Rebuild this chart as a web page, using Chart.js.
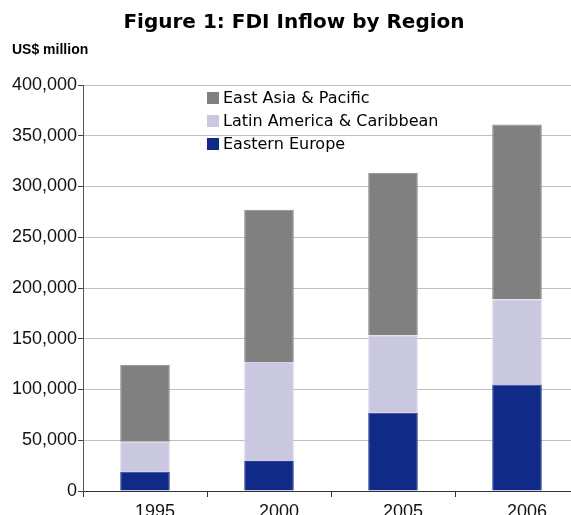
<!DOCTYPE html>
<html>
<head>
<meta charset="utf-8">
<script src="https://cdn.jsdelivr.net/npm/chart.js@4.4.1/dist/chart.umd.min.js"></script>
<style>
  html, body { margin: 0; padding: 0; background: #fff; overflow: hidden; }
  #wrap { position: relative; width: 580px; height: 515px; }
</style>
</head>
<body>
<div id="wrap"><canvas id="fdiChart"></canvas></div>
<script>
// data (US$ million)
const years = ['1995', '2000', '2005', '2006']
const easternEurope = [19000, 29500, 77000, 105000]
const latinAmerica = [29500, 97500, 76500, 84000]
const eastAsia = [76000, 150000, 160000, 172000]
const yTicks = [0, 50000, 100000, 150000, 200000, 250000, 300000, 350000, 400000]

const titleText = 'Figure 1: FDI Inflow by Region'
const unitText = 'US$ million'

// title, unit label and in-plot legend
const decorations = {
  id: 'decorations',
  afterDraw(chart) {
    const ctx = chart.ctx
    ctx.save()
    ctx.fillStyle = '#000'
    ctx.textBaseline = 'middle'
    ctx.textAlign = 'center'
    ctx.font = 'bold 20px "DejaVu Sans"'
    ctx.fillText(titleText, 294, 23)
    ctx.textAlign = 'left'
    ctx.font = 'bold 14px "Liberation Sans"'
    ctx.fillText(unitText, 12, 50)

    // legend, top row first
    const order = [2, 1, 0]
    ctx.font = '16px "DejaVu Sans"'
    order.forEach((di, row) => {
      const ds = chart.data.datasets[di]
      const y = 98 + row * 23
      ctx.fillStyle = ds.backgroundColor
      ctx.fillRect(207, y - 6, 12, 12)
      ctx.fillStyle = '#000'
      ctx.fillText(ds.label, 223, y + 1)
    })
    ctx.restore()
  }
}

new Chart(document.getElementById('fdiChart'), {
  type: 'bar',
  data: {
    labels: years,
    datasets: [{
      label: 'Eastern Europe',
      data: easternEurope,
      backgroundColor: '#0f2a87',
      borderColor: '#2a3f95',
      borderWidth: 1
    }, {
      label: 'Latin America & Caribbean',
      data: latinAmerica,
      backgroundColor: '#cac8e0',
      borderColor: '#d6d4ea',
      borderWidth: 1
    }, {
      label: 'East Asia & Pacific',
      data: eastAsia,
      backgroundColor: '#808080',
      borderColor: '#8c8c8c',
      borderWidth: 1
    }]
  },
  options: {
    responsive: true,
    maintainAspectRatio: false,
    animation: false,
    layout: { padding: { top: 85, right: 1, left: 0, bottom: 0 } },
    datasets: { bar: { barPercentage: 0.4, categoryPercentage: 1 } },
    plugins: {
      legend: { display: false },
      title: { display: false },
      tooltip: { enabled: false }
    },
    scales: {
      x: {
        stacked: true,
        grid: {
          offset: true,
          drawOnChartArea: false,
          drawTicks: true,
          tickLength: 6,
          tickColor: '#333'
        },
        border: { display: true, color: '#333', width: 1 },
        ticks: {
          color: '#111',
          font: { family: 'Liberation Sans', size: 18 },
          padding: 4,
          labelOffset: 10
        },
        afterFit(scale) { scale.height = 24 }
      },
      y: {
        stacked: true,
        min: 0,
        max: 400000,
        afterBuildTicks(scale) {
          scale.ticks = yTicks.map(v => ({ value: v }))
        },
        grid: {
          color: '#c0c0c0',
          lineWidth: 1,
          tickLength: 5,
          tickColor: '#444'
        },
        border: { display: true, color: '#555', width: 1 },
        ticks: {
          color: '#111',
          font: { family: 'Liberation Sans', size: 18 },
          padding: 1,
          callback: v => v.toLocaleString('en-US')
        },
        afterFit(scale) { scale.width = 83 }
      }
    }
  },
  plugins: [decorations]
})
</script>
</body>
</html>
